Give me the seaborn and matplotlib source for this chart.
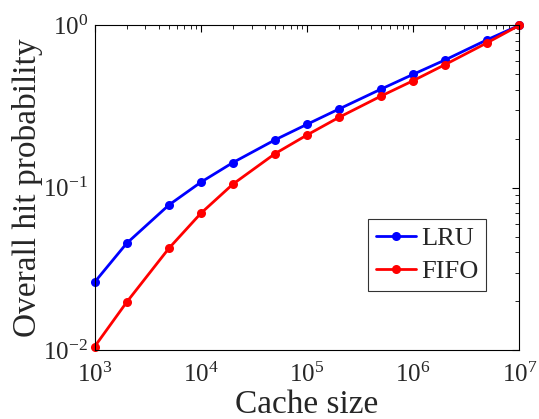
import numpy as np
import pandas as pd
import matplotlib
matplotlib.use("Agg")
import matplotlib.pyplot as plt
import seaborn as sns

cache_size = [1e3, 2e3, 5e3, 1e4, 2e4, 5e4, 1e5, 2e5, 5e5, 1e6, 2e6, 5e6, 1e7]
lru = [0.0262, 0.0454, 0.0782, 0.108, 0.1426, 0.197, 0.2455, 0.305, 0.405, 0.499, 0.612, 0.816, 1.0]
fifo = [0.0105, 0.0197, 0.0423, 0.0695, 0.105, 0.162, 0.211, 0.271, 0.367, 0.456, 0.573, 0.782, 1.0]
series_names = ["LRU", "FIFO"]
colors = ["#0000ff", "#ff0000"]

df = pd.DataFrame({
    "Cache size": cache_size * 2,
    "p": lru + fifo,
    "policy": [series_names[0]] * len(cache_size) + [series_names[1]] * len(cache_size),
})

sns.set_style("white")
plt.rcParams["font.family"] = ["Liberation Serif", "DejaVu Serif"]
plt.rcParams["mathtext.fontset"] = "custom"
plt.rcParams["mathtext.rm"] = "Liberation Serif"
plt.rcParams["mathtext.it"] = "Liberation Serif:italic"

fig = plt.figure(figsize=(5.39, 4.19), dpi=100)
ax = fig.add_axes([0.1757, 0.1647, 0.9635 - 0.1757, 0.9396 - 0.1647])

sns.lineplot(data=df, x="Cache size", y="p", hue="policy", palette=colors,
             marker="o", markersize=6.5, markeredgewidth=0, linewidth=2,
             ax=ax, legend=True)

ax.set_xscale("log")
ax.set_yscale("log")
ax.set_xlim(1e3, 1e7)
ax.set_ylim(1e-2, 1e0)
for l in ax.lines:
    l.set_clip_on(False)

ax.set_xlabel("Cache size", fontsize=24, labelpad=2)
ax.set_ylabel("Overall hit probability", fontsize=24, labelpad=0)
ax.tick_params(axis="both", which="both", direction="in", top=True, right=True,
               labelsize=18, color="black")
ax.tick_params(axis="both", which="major", length=5, width=0.8)
ax.tick_params(axis="x", which="major", pad=9)
ax.tick_params(axis="y", which="major", pad=5)
ax.tick_params(axis="both", which="minor", length=3, width=0.6)
for s in ax.spines.values():
    s.set_color("black")
    s.set_linewidth(0.8)

leg = ax.legend(loc="lower right", bbox_to_anchor=(0.922, 0.182), fontsize=19,
                frameon=True, fancybox=False, edgecolor="black",
                handlelength=1.5, handletextpad=0.2, borderpad=0.3, labelspacing=0.35,
                borderaxespad=0)
leg.get_frame().set_linewidth(0.8)

fig.savefig("out.png", dpi=100)
